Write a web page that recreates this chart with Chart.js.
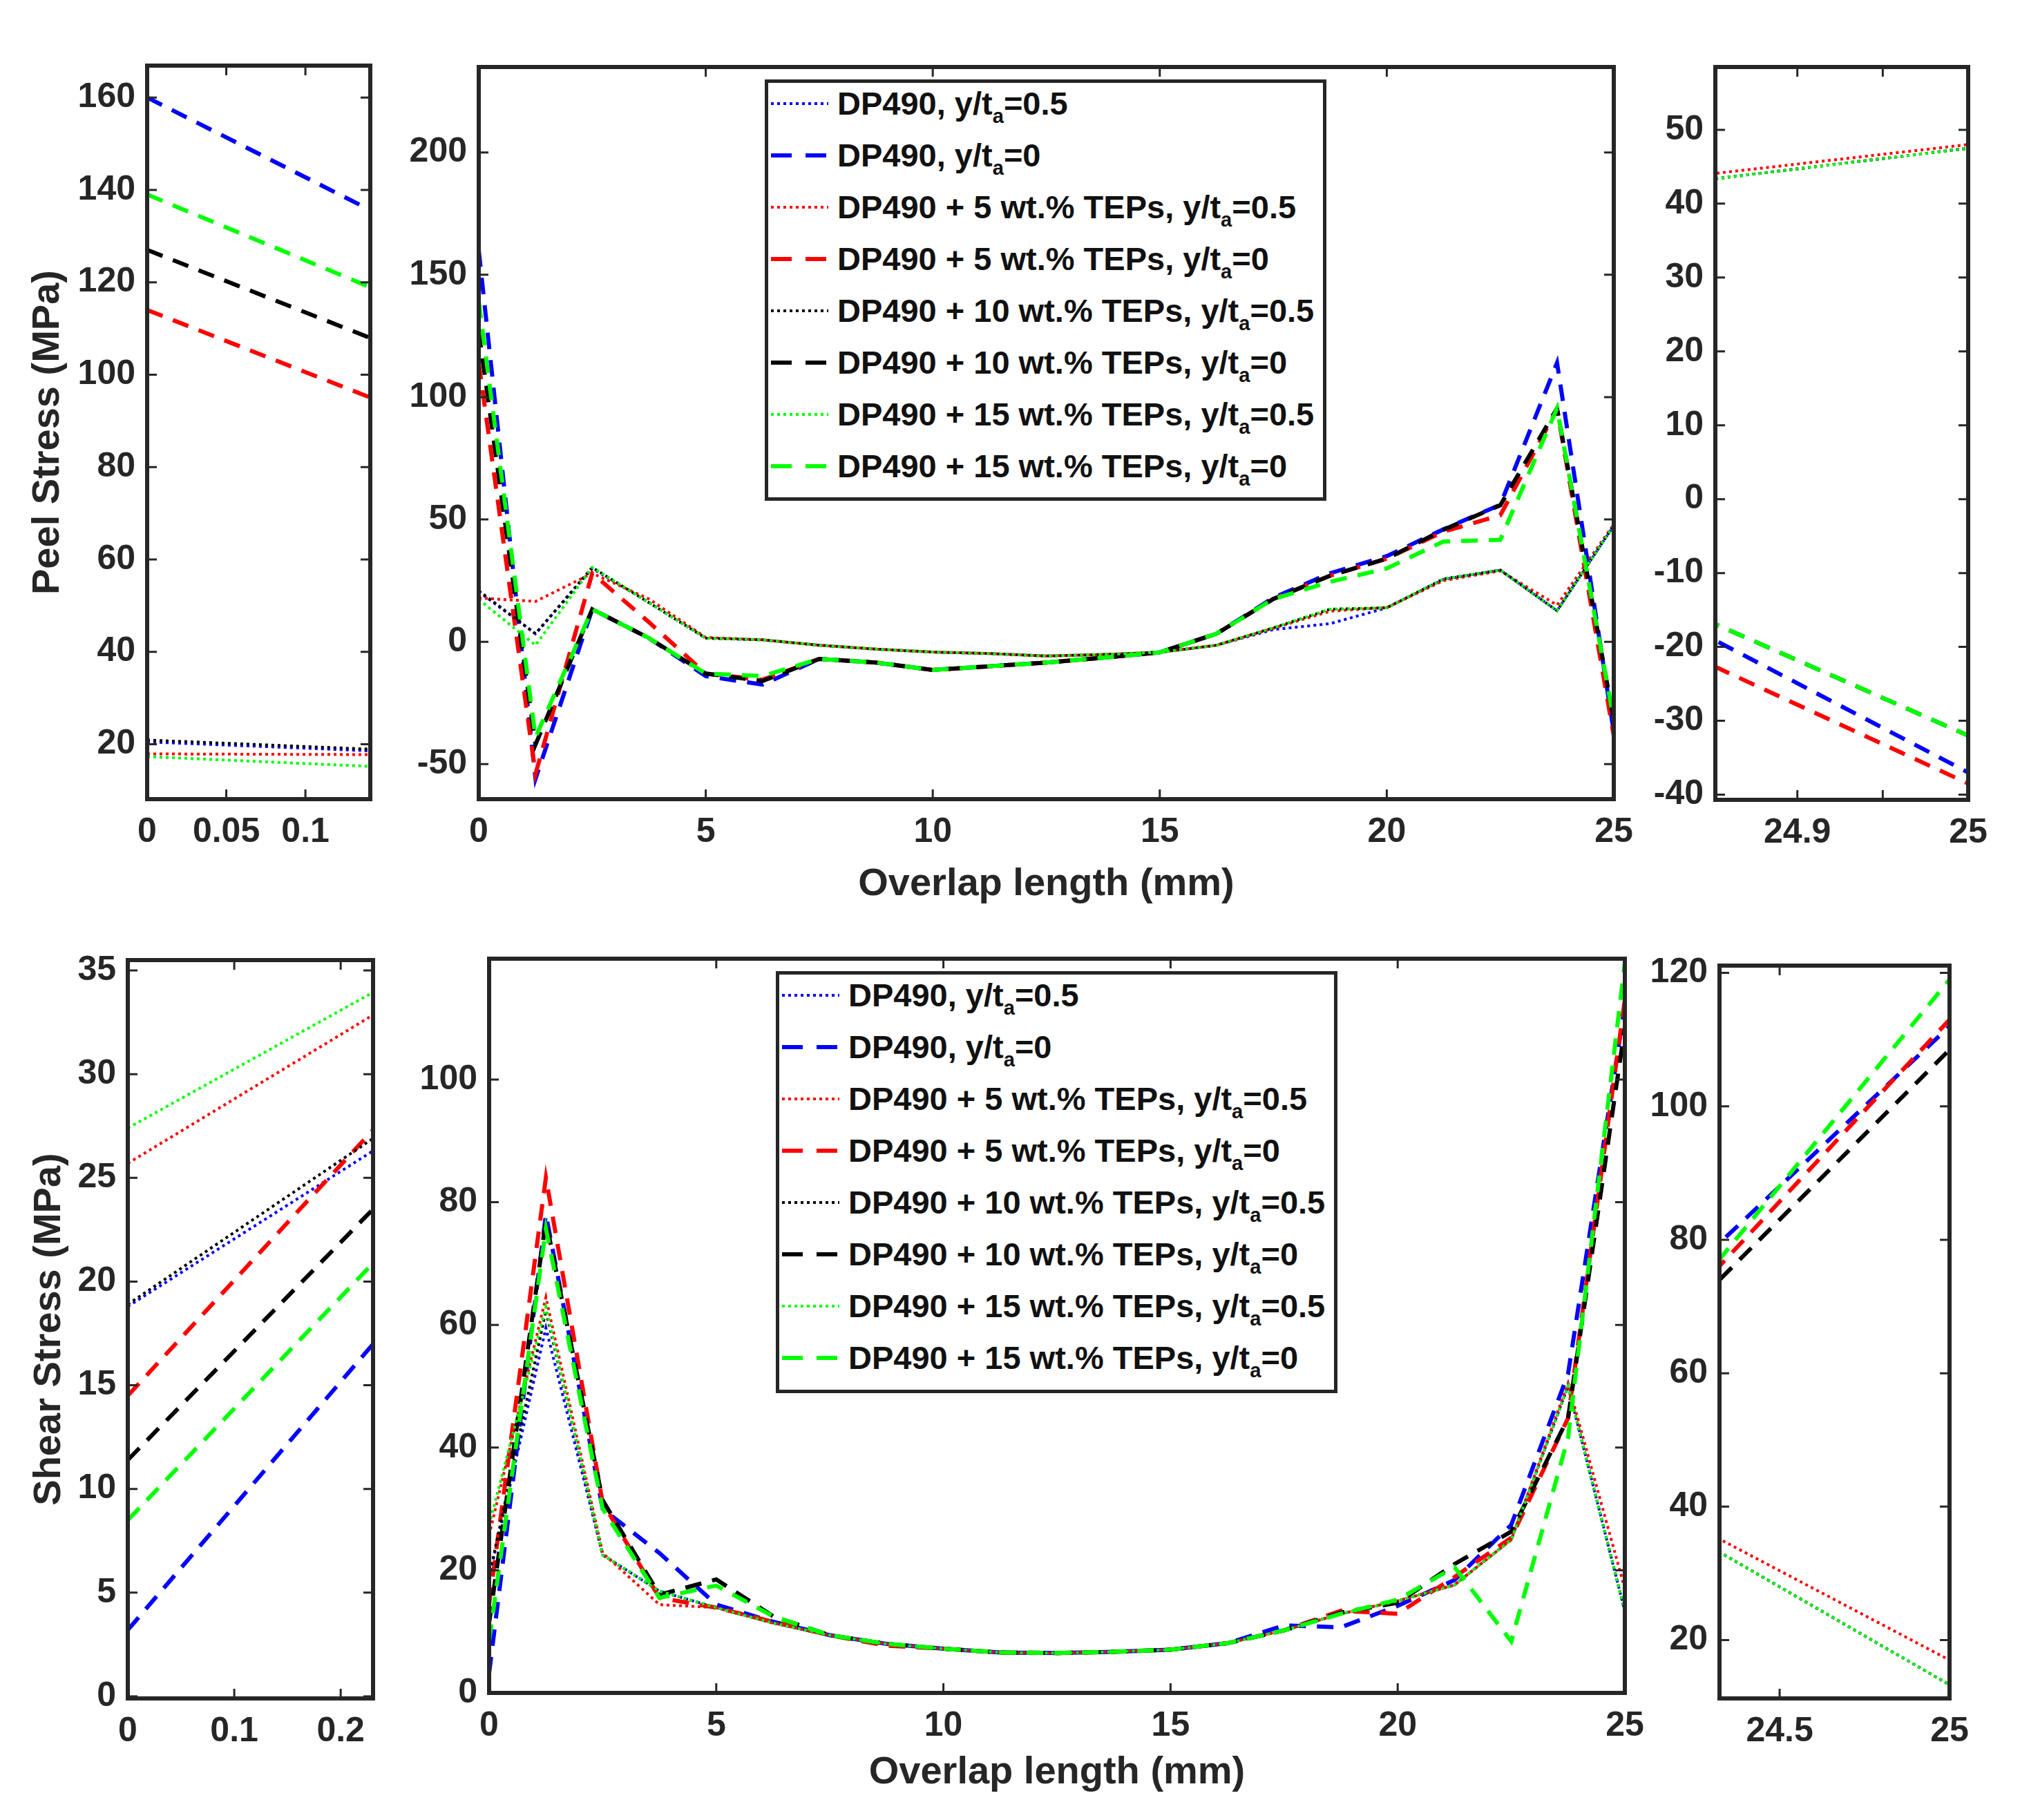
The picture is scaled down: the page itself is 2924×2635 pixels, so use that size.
<!DOCTYPE html>
<html>
<head>
<meta charset="utf-8">
<title>Peel and shear stress along the overlap</title>
<script src="https://cdn.jsdelivr.net/npm/chart.js@4.4.0/dist/chart.umd.min.js"></script>
<style>
  html, body { margin: 0; padding: 0; background: #fff; }
  #page { position: relative; width: 2924px; height: 2635px; background: #fff; overflow: hidden; }
  #page canvas { position: absolute; }
  .legend {
    position: absolute; box-sizing: border-box; border: 5px solid #262626; background: #fff;
    font-family: 'Liberation Sans', Arial, sans-serif; font-weight: bold; font-size: 47px; color: #111;
  }
  .legend .rows { margin-top: -8px; }
  .legend .row { display: flex; align-items: center; height: 75px; padding-left: 4px; white-space: nowrap; }
  .legend svg { flex: none; margin-right: 13px; }
  .legend .txt { line-height: 1; }
  .legend sub { font-size: 0.62em; vertical-align: baseline; position: relative; top: 0.42em; }
</style>
</head>
<body>
<div id="page"></div>
<script>
// Posições ao longo da sobreposição (mm)
const overlap = [0, 1.25, 2.5, 3.75, 5, 6.25, 7.5, 8.75, 10, 11.25, 12.5, 13.75, 15, 16.25, 17.5, 18.75, 20, 21.25, 22.5, 23.75, 25];

// Tensão de descolamento (MPa)
const peelDP490_05 = [20.5, 3.3, 30, 16, 1.5, 0.8, -1.4, -3, -4.2, -4.8, -5.8, -5.2, -4.3, -1.4, 5, 7.4, 13.9, 25.5, 29.3, 12.7, 47.5];
const peelDP490_0  = [160, -56, 13.3, 1.5, -14, -17.5, -7, -8.5, -11.5, -10, -8.5, -6.5, -4.3, 3.3, 18, 28, 35, 46, 56, 114, -37];
const peelTEP5_05  = [17.9, 16.5, 28, 17.5, 1.8, 0.8, -1.4, -3, -4.2, -4.8, -5.8, -5.2, -4.3, -1.4, 5.5, 12.5, 14, 25, 29, 15, 48];
const peelTEP5_0   = [114, -54, 28, 8, -13, -15.5, -7, -8.5, -11.5, -10, -8.5, -6.5, -4.3, 3.3, 17.5, 27, 34, 45, 51.7, 95, -38.5];
const peelTEP10_05 = [20.9, 3.3, 30.4, 16, 1.5, 0.8, -1.4, -3, -4.2, -4.8, -5.8, -5.2, -4.3, -1.4, 5.7, 13.3, 13.9, 25.7, 29.3, 12.7, 47.5];
const peelTEP10_0  = [127, -42, 13.3, 1.5, -13, -16, -7, -8.5, -11.5, -10, -8.5, -6.5, -4.3, 3.3, 17.5, 27, 34, 45.8, 55.8, 95.4, -32];
const peelTEP15_05 = [17.3, -1.4, 30.4, 16, 1.5, 0.8, -1.4, -3, -4.2, -4.8, -5.8, -5.2, -4.3, -1.4, 5.7, 13.3, 13.9, 25.7, 29.3, 12.7, 47.5];
const peelTEP15_0  = [139, -39, 13.3, 1.5, -13, -14, -7, -8.5, -11.5, -10, -8.5, -6.5, -4.3, 3.3, 17.5, 24.5, 30, 41, 41.7, 95.4, -32];

// Tensão de cisalhamento (MPa)
const shearDP490_05 = [18.8, 59.5, 22.5, 16.6, 13.9, 11.4, 9.4, 8, 7.2, 6.6, 6.5, 6.7, 7.05, 8.1, 10.2, 12.9, 15, 17.6, 25, 50, 13.3];
const shearDP490_0  = [3.2, 78, 30, 22.8, 14.4, 11.6, 9.4, 8, 7.2, 6.6, 6.5, 6.7, 7.05, 8.1, 11, 10.7, 14.2, 18.4, 27.4, 52, 112];
const shearTEP5_05  = [25.7, 64.5, 22.8, 14.4, 13.9, 11.4, 9.4, 8, 7.2, 6.6, 6.5, 6.7, 7.05, 8.1, 10.2, 12.9, 15, 17.6, 25, 50.5, 17];
const shearTEP5_0   = [14.5, 84, 31, 15.5, 13.9, 11.6, 9.4, 7.7, 7.2, 6.6, 6.5, 6.7, 7.05, 8.1, 10.2, 13.4, 12.9, 18.9, 25.3, 44.8, 113];
const shearTEP10_05 = [18.9, 62.3, 22.5, 16.6, 13.9, 11.4, 9.4, 8, 7.2, 6.6, 6.5, 6.7, 7.05, 8.1, 10.2, 12.9, 15, 17.6, 25, 50, 13.3];
const shearTEP10_0  = [11.4, 77, 31.4, 16, 18.5, 12.5, 9.4, 8, 7.2, 6.6, 6.5, 6.7, 7.05, 8.1, 10.2, 13.1, 14.7, 21, 26.3, 44.8, 108.5];
const shearTEP15_05 = [27.4, 62.9, 22.5, 16.6, 13.9, 11.4, 9.4, 8, 7.2, 6.6, 6.5, 6.7, 7.05, 8.1, 10.2, 12.9, 15, 17.6, 25, 50, 13.3];
const shearTEP15_0  = [8.5, 75.7, 30, 15.5, 17.5, 12.5, 9.4, 8, 7.2, 6.6, 6.5, 6.7, 7.05, 8.1, 10.2, 12.9, 15.2, 20.5, 8.4, 41.6, 119];

const seriesLabels = [
    'DP490, y/t_a=0.5',
    'DP490, y/t_a=0',
    'DP490 + 5 wt.% TEPs, y/t_a=0.5',
    'DP490 + 5 wt.% TEPs, y/t_a=0',
    'DP490 + 10 wt.% TEPs, y/t_a=0.5',
    'DP490 + 10 wt.% TEPs, y/t_a=0',
    'DP490 + 15 wt.% TEPs, y/t_a=0.5',
    'DP490 + 15 wt.% TEPs, y/t_a=0'
];
const seriesColors = ['#0000ff', '#0000ff', '#ff0000', '#ff0000', '#000000', '#000000', '#00ff00', '#00ff00'];
const seriesStyles = ['dot', 'dash', 'dot', 'dash', 'dot', 'dash', 'dot', 'dash'];

const peelSeries = [peelDP490_05, peelDP490_0, peelTEP5_05, peelTEP5_0, peelTEP10_05, peelTEP10_0, peelTEP15_05, peelTEP15_0];
const shearSeries = [shearDP490_05, shearDP490_0, shearTEP5_05, shearTEP5_0, shearTEP10_05, shearTEP10_0, shearTEP15_05, shearTEP15_0];

// Marcas dos eixos
const peelLeftXTicks = [0, 0.05, 0.1];
const peelLeftYTicks = [20, 40, 60, 80, 100, 120, 140, 160];
const peelMainXTicks = [0, 5, 10, 15, 20, 25];
const peelMainYTicks = [-50, 0, 50, 100, 150, 200];
const peelRightXTicks = [24.9, 24.95, 25];
const peelRightXLabels = ['24.9', '', '25'];
const peelRightYTicks = [-40, -30, -20, -10, 0, 10, 20, 30, 40, 50];
const shearLeftXTicks = [0, 0.1, 0.2];
const shearLeftYTicks = [0, 5, 10, 15, 20, 25, 30, 35];
const shearMainXTicks = [0, 5, 10, 15, 20, 25];
const shearMainYTicks = [0, 20, 40, 60, 80, 100];
const shearRightXTicks = [24.5, 25];
const shearRightYTicks = [20, 40, 60, 80, 100, 120];

const axisColor = '#262626';
const PAD_T = 40;
const PAD_R = 50;

Chart.defaults.font.family = "'Liberation Sans', Arial, sans-serif";
Chart.defaults.color = axisColor;

const page = document.getElementById('page');

// Caixa estilo MATLAB com marcas para dentro
const boxPlugin = {
    id: 'matlabBox',
    afterDatasetsDraw(chart) {
        const { ctx, chartArea: a, scales } = chart;
        const tl = 14;
        ctx.save();
        ctx.strokeStyle = axisColor;
        ctx.lineWidth = 3;
        ctx.beginPath();
        scales.x.ticks.forEach(t => {
            const px = scales.x.getPixelForValue(t.value);
            ctx.moveTo(px, a.bottom); ctx.lineTo(px, a.bottom - tl);
            ctx.moveTo(px, a.top); ctx.lineTo(px, a.top + tl);
        });
        scales.y.ticks.forEach(t => {
            const py = scales.y.getPixelForValue(t.value);
            ctx.moveTo(a.left, py); ctx.lineTo(a.left + tl, py);
            ctx.moveTo(a.right, py); ctx.lineTo(a.right - tl, py);
        });
        ctx.stroke();
        ctx.lineWidth = 6;
        ctx.strokeRect(a.left, a.top, a.right - a.left, a.bottom - a.top);
        ctx.restore();
    }
};

function makePanel(cfg) {
    const canvas = document.createElement('canvas');
    canvas.width = cfg.yw + cfg.w + PAD_R;
    canvas.height = PAD_T + cfg.h + cfg.xh;
    canvas.style.left = (cfg.l - cfg.yw) + 'px';
    canvas.style.top = (cfg.t - PAD_T) + 'px';
    page.appendChild(canvas);

    new Chart(canvas, {
        type: 'line',
        data: {
            datasets: cfg.series.map((vals, i) => ({
                label: seriesLabels[i],
                data: overlap.map((x, k) => ({ x: x, y: vals[k] })),
                borderColor: seriesColors[i],
                borderWidth: seriesStyles[i] === 'dot' ? 4 : 6,
                borderDash: seriesStyles[i] === 'dot' ? [4, 5] : [24, 16],
                pointRadius: 0,
                fill: false,
                tension: 0,
                order: 7 - i
            }))
        },
        options: {
            responsive: false,
            animation: false,
            devicePixelRatio: 1,
            layout: { padding: { top: PAD_T, right: PAD_R, left: 0, bottom: 0 } },
            plugins: { legend: { display: false }, tooltip: { enabled: false } },
            scales: {
                x: {
                    type: 'linear',
                    min: cfg.xMin,
                    max: cfg.xMax,
                    grid: { display: false, drawTicks: false },
                    border: { display: false },
                    afterBuildTicks: s => { s.ticks = cfg.xTicks.map(v => ({ value: v })); },
                    afterFit: s => { s.height = cfg.xh; },
                    ticks: {
                        autoSkip: false,
                        maxRotation: 0,
                        padding: 18,
                        font: { size: 50, weight: 'bold' },
                        callback: (v, i) => cfg.xLabels ? cfg.xLabels[i] : String(cfg.xTicks[i])
                    },
                    title: {
                        display: !!cfg.xTitle,
                        text: cfg.xTitle || '',
                        padding: 0,
                        font: { size: 56, weight: 'bold' }
                    }
                },
                y: {
                    type: 'linear',
                    min: cfg.yMin,
                    max: cfg.yMax,
                    grid: { display: false, drawTicks: false },
                    border: { display: false },
                    afterBuildTicks: s => { s.ticks = cfg.yTicks.map(v => ({ value: v })); },
                    afterFit: s => { s.width = cfg.yw; },
                    ticks: {
                        autoSkip: false,
                        padding: 17,
                        font: { size: 50, weight: 'bold' },
                        callback: (v, i) => String(cfg.yTicks[i])
                    },
                    title: {
                        display: !!cfg.yTitle,
                        text: cfg.yTitle || '',
                        padding: 0,
                        font: { size: 56, weight: 'bold' }
                    }
                }
            }
        },
        plugins: [boxPlugin]
    });
}

function buildLegend(left, top, width, height) {
    const box = document.createElement('div');
    box.className = 'legend';
    box.style.left = left + 'px';
    box.style.top = top + 'px';
    box.style.width = width + 'px';
    box.style.height = height + 'px';
    const rows = document.createElement('div');
    rows.className = 'rows';
    seriesLabels.forEach((label, i) => {
        const parts = label.split('_a');
        const dot = seriesStyles[i] === 'dot';
        const row = document.createElement('div');
        row.className = 'row';
        row.innerHTML =
            '<svg width="83" height="20"><line x1="0" y1="10" x2="83" y2="10" stroke="' + seriesColors[i] +
            '" stroke-width="' + (dot ? 4 : 6) + '" stroke-dasharray="' + (dot ? '4 5' : '30 20') + '"/></svg>' +
            '<span class="txt">' + parts[0] + '<sub>a</sub>' + parts[1] + '</span>';
        rows.appendChild(row);
    });
    box.appendChild(rows);
    page.appendChild(box);
}

// Linha superior: tensão de descolamento
makePanel({ l: 213, t: 88, w: 323, h: 1069, yw: 177, xh: 90, series: peelSeries,
    xMin: 0, xMax: 0.141, yMin: 8.1, yMax: 166.9, xTicks: peelLeftXTicks, yTicks: peelLeftYTicks,
    yTitle: 'Peel Stress (MPa)' });
makePanel({ l: 693, t: 90, w: 1643, h: 1067, yw: 150, xh: 157, series: peelSeries,
    xMin: 0, xMax: 25, yMin: -64.3, yMax: 234.9, xTicks: peelMainXTicks, yTicks: peelMainYTicks,
    xTitle: 'Overlap length (mm)' });
makePanel({ l: 2483, t: 90, w: 366, h: 1068, yw: 150, xh: 90, series: peelSeries,
    xMin: 24.852, xMax: 25, yMin: -40.7, yMax: 58.5, xTicks: peelRightXTicks, xLabels: peelRightXLabels,
    yTicks: peelRightYTicks });

// Linha inferior: tensão de cisalhamento
makePanel({ l: 185, t: 1383, w: 355, h: 1076, yw: 147, xh: 90, series: shearSeries,
    xMin: 0, xMax: 0.2304, yMin: -0.1, yMax: 35.5, xTicks: shearLeftXTicks, yTicks: shearLeftYTicks,
    yTitle: 'Shear Stress (MPa)' });
makePanel({ l: 708, t: 1381, w: 1644, h: 1070, yw: 150, xh: 149, series: shearSeries,
    xMin: 0, xMax: 25, yMin: 0, yMax: 119.7, xTicks: shearMainXTicks, yTicks: shearMainYTicks,
    xTitle: 'Overlap length (mm)' });
makePanel({ l: 2489, t: 1391, w: 333, h: 1068, yw: 150, xh: 90, series: shearSeries,
    xMin: 24.323, xMax: 25, yMin: 11.25, yMax: 121.1, xTicks: shearRightXTicks, yTicks: shearRightYTicks });

buildLegend(1107, 115, 813, 610);
buildLegend(1123, 1406, 813, 611);
</script>
</body>
</html>
